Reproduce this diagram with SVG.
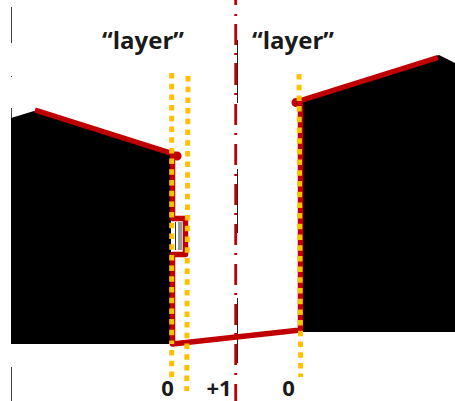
<svg xmlns="http://www.w3.org/2000/svg" width="455" height="401" viewBox="0 0 455 401">
<style>
.lbl{font-family:"Open Sans","DejaVu Sans",sans-serif;font-weight:700;font-size:24px;fill:#1a1a1a;text-anchor:middle}
.num{font-family:"Open Sans","DejaVu Sans",sans-serif;font-weight:700;font-size:22px;fill:#1a1a1a;text-anchor:middle}
.red{fill:none;stroke:#c00000;stroke-linejoin:round}
.dot{fill:none;stroke:#ffc000;stroke-width:5;stroke-dasharray:5.5 5.2}
.tick{stroke:#444;stroke-width:1;fill:none}
</style>
<rect width="455" height="401" fill="#fff"/>
<g id="left-block">
<path d="M11 118L34 111L171 154V344H11Z" fill="#000"/>
<path d="M11.500 7V43M11.500 76V77M11.500 108V118M11.500 367V401" class="tick"/>
</g>
<g id="right-block">
<path d="M302 101L439 55L455 63V332H302Z" fill="#000"/>
</g>
<g id="slot">
<rect x="175" y="221" width="10" height="30" fill="#fff"/>
<rect x="178" y="222" width="4" height="28" fill="#999"/>
<path d="M175.500 222V250" stroke="#333" stroke-width="1" fill="none"/>
</g>
<g id="connectors">
<path d="M237.500 40V103M237.500 169V233M237.500 298V363" stroke="#222" stroke-width="1" fill="none"/>
<path d="M235.700 0V5M235.700 14V16M235.700 24V45M235.700 53V55M235.700 63V85M235.700 93V95M235.700 104V125M235.700 133V135M235.700 144V165M235.700 174V176M235.700 184V205M235.700 213V215M235.700 224V245M235.700 253V255M235.700 264V285M235.700 293V295M235.700 304V325M235.700 333V335M235.700 344V365M235.700 373V375M235.700 384V401" stroke="#c00000" stroke-width="2.800" fill="none"/>
<path class="red" stroke-width="5.500" d="M35 110L177 155"/>
<path class="red" stroke-width="5.500" d="M172.500 155V218.500H185.500V254.500H172.500V344L300.500 330V101M296 102L438 57.500"/>
<path class="red" stroke-width="9" stroke-linecap="round" d="M177 156H177.100M296 102.500V102.600"/>
<path class="dot" d="M171.700 73V344"/>
<path class="dot" d="M171.700 350V378"/>
<path class="dot" d="M188 76L186.700 391"/>
<path class="dot" d="M299 74L300.700 377"/>
</g>
<g id="labels">
<text class="lbl" x="143" y="49">“layer”</text>
<text class="lbl" x="293" y="49">“layer”</text>
<text class="num" x="167.500" y="396">0</text>
<text class="num" x="219" y="396">+1</text>
<text class="num" x="288.500" y="396">0</text>
</g>
</svg>
